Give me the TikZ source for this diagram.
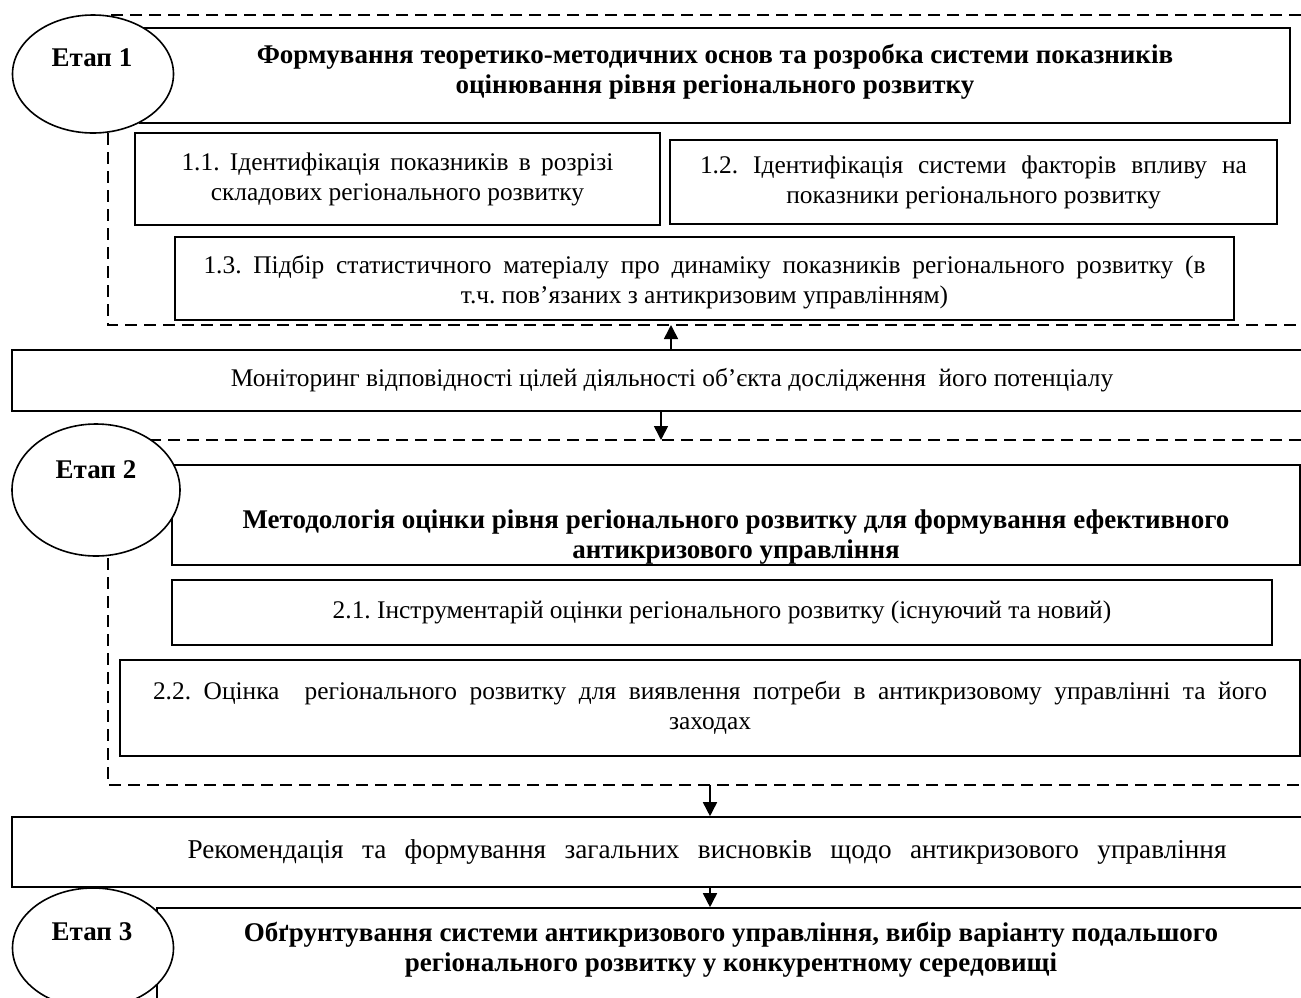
\documentclass[tikz,border=0pt]{standalone}
\usepackage{fontspec}
\setmainfont{Liberation Serif}
\usetikzlibrary{arrows.meta,shapes.geometric}

% a first line that is spread to a given width
\newcommand{\spreadline}[2]{\makebox[#1][s]{#2}}
% centred lines of a box
\newcommand{\lines}[1]{\begin{tabular}{@{}c@{}}#1\end{tabular}}

\tikzset{
  boxsize/.style 2 args={minimum width=#1*0.5pt, minimum height=#2*0.5pt},
  box/.style={draw, line width=0.8pt, fill=white, inner sep=0pt,
    font=\fontsize{12.7}{15}\selectfont\frenchspacing},
  headbox/.style={box, font=\fontsize{13.5}{15}\selectfont\bfseries},
  headtext/.style={inner sep=0pt, font=\fontsize{13.5}{15}\selectfont\bfseries},
  etap/.style={draw, ellipse, line width=0.8pt, fill=white, inner sep=0pt},
  etaptext/.style={inner sep=0pt, font=\fontsize{13.5}{15}\selectfont\bfseries},
  frame/.style={line width=0.8pt, dash pattern=on 6pt off 3.5pt},
  arr/.style={line width=0.8pt, -{Triangle[width=7pt,length=7pt]}},
}

\begin{document}
\begin{tikzpicture}[x=0.5pt, y=-0.5pt]

    \useasboundingbox (0,0) rectangle (1301,997);
    \clip (0,0) rectangle (1301,997);

    %% Dashed frames of the stages
    \draw[frame] (1320,15) -- (108,15) -- (108,325) -- (1320,325);
    \draw[frame] (1320,440) -- (108,440) -- (108,785) -- (1320,785);
    \coordinate (f1b) at (671,325);
    \coordinate (f1t) at (661,440);
    \coordinate (f2b) at (710,785);

    %% Stage 1
    \node[headbox, boxsize={1150}{95}] (h1) at (715,75.5)
        {\lines{Формування теоретико-методичних основ та розробка системи показників\\
         оцінювання рівня регіонального розвитку\\[3.5pt]}};
    \node[box, boxsize={525}{92}] (b11) at (397.5,179)
        {\lines{\spreadline{216pt}{1.1. Ідентифікація показників в розрізі}\\
         складових регіонального розвитку}};
    \node[box, boxsize={607}{84}] (b12) at (973.5,182)
        {\lines{\spreadline{273.5pt}{1.2. Ідентифікація системи факторів впливу на}\\
         показники регіонального розвитку}};
    \node[box, boxsize={1059}{83}] (b13) at (704.5,278.5)
        {\lines{\rule{0pt}{14pt}\spreadline{501pt}{1.3. Підбір статистичного матеріалу про динаміку показників регіонального розвитку (в}\\
         т.ч. пов’язаних з антикризовим управлінням)}};

    % Monitoring
    \node[box, boxsize={1320}{61}] (mon) at (672,380.5)
        {\lines{Моніторинг відповідності цілей діяльності об’єкта дослідження\ \ його потенціалу}};
    \draw[arr] (mon.north -| f1b) -- (f1b);
    \draw[arr] (mon.south -| f1t) -- (f1t);

    %% Stage 2
    \node[box, boxsize={1128}{100}] (h2) at (736,515) {};
    \node[headtext] (h2t) at (736,537)
        {\lines{Методологія оцінки рівня регіонального розвитку для формування ефективного\\
         антикризового управління}};
    \node[box, boxsize={1100}{65}] (b21) at (722,612.5)
        {\lines{2.1. Інструментарій оцінки регіонального розвитку (існуючий та новий)}};
    \node[box, boxsize={1180}{96}] (b22) at (710,708)
        {\lines{\spreadline{557pt}{2.2. Оцінка\ \ регіонального розвитку для виявлення потреби в антикризовому управлінні та його}\\
         заходах}};

    % Recommendations
    \node[box, boxsize={1390}{70}, font=\fontsize{13.6}{15}\selectfont] (rec) at (707,852)
        {\lines{\spreadline{519.5pt}{Рекомендація та формування загальних висновків щодо антикризового управління}}};
    \draw[arr] (f2b) -- (rec.north -| f2b);

    %% Stage 3
    \node[headbox, boxsize={1148}{92}] (h3) at (731,954)
        {\lines{Обґрунтування системи антикризового управління, вибір варіанту подальшого\\
         регіонального розвитку у конкурентному середовищі\\[3.5pt]}};
    \draw[arr] (rec.south -| f2b) -- (h3.north -| f2b);

    % Stage ellipses
    \node[etap, minimum width=80.5pt, minimum height=59pt] (e1) at (93,74) {};
    \node[etaptext] (e1t) at (92,58) {Етап 1};
    \node[etap, minimum width=84pt, minimum height=66pt] (e2) at (96,490) {};
    \node[etaptext] (e2t) at (96,470) {Етап 2};
    \node[etap, minimum width=80.5pt, minimum height=60pt] (e3) at (93,948) {};
    \node[etaptext] (e3t) at (92,932) {Етап 3};

\end{tikzpicture}
\end{document}
